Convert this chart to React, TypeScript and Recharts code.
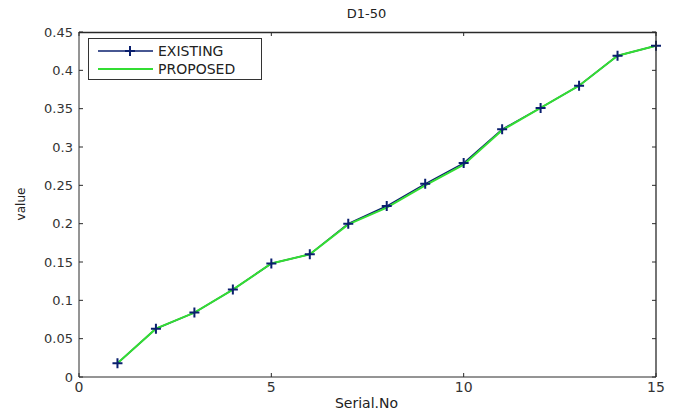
import React from 'react';
import { LineChart, Line, XAxis, YAxis, Legend } from 'recharts';

const serialNo = [1, 2, 3, 4, 5, 6, 7, 8, 9, 10, 11, 12, 13, 14, 15];
const existing = [0.018, 0.063, 0.084, 0.114, 0.148, 0.160, 0.200, 0.223, 0.252, 0.279, 0.323, 0.351, 0.380, 0.419, 0.432];
const proposed = [0.018, 0.063, 0.084, 0.114, 0.148, 0.160, 0.199, 0.221, 0.250, 0.277, 0.322, 0.351, 0.380, 0.419, 0.432];
const xTicks = [0, 5, 10, 15];
const yTicks = [0, 0.05, 0.1, 0.15, 0.2, 0.25, 0.3, 0.35, 0.4, 0.45];
const xDomain = [0, 15];
const yDomain = [0, 0.45];
const seriesNames = ['EXISTING', 'PROPOSED'];
const chartTitle = 'D1-50';
const xLabel = 'Serial.No';
const yLabel = 'value';

const data = serialNo.map((x, i) => ({ x, existing: existing[i], proposed: proposed[i] }));

const W = 675;
const H = 412;
const M = { top: 32, right: 19, left: 0, bottom: 0 };
const Y_AXIS_W = 79;
const X_AXIS_H = 35;
const PL = M.left + Y_AXIS_W;
const PR = W - M.right;
const PT = M.top;
const PB = H - M.bottom - X_AXIS_H;

const NAVY = '#0a1f6e';
const GREEN = '#33dd33';
const AXIS = '#2a2a2a';
const FONT = 'DejaVu Sans, Arial, sans-serif';

const PlusDot = (props: any) => {
  const { cx, cy, index } = props;
  if (cx == null || cy == null) return null;
  return (
    <path
      key={`p${index}`}
      d={`M${cx - 5},${cy}H${cx + 5}M${cx},${cy - 5}V${cy + 5}`}
      stroke={NAVY}
      strokeWidth={2}
      fill="none"
    />
  );
};

const renderLegend = () => (
  <div
    style={{
      border: '1px solid #333',
      background: '#fff',
      width: 174,
      height: 42,
      boxSizing: 'border-box',
      fontFamily: FONT,
      fontSize: 14,
      color: '#222',
      position: 'relative',
    }}
  >
    {seriesNames.map((name, i) => (
      <div key={name} style={{ position: 'absolute', left: 9, top: 3 + i * 18, height: 18, display: 'flex', alignItems: 'center' }}>
        <svg width={56} height={18} style={{ display: 'block' }}>
          <line x1={0} y1={9} x2={55} y2={9} stroke={i === 0 ? NAVY : GREEN} strokeWidth={i === 0 ? 1.5 : 2} />
          {i === 0 && <path d="M27,9H37M32,4V14" stroke={NAVY} strokeWidth={2} />}
        </svg>
        <span style={{ marginLeft: 4, lineHeight: '18px' }}>{name}</span>
      </div>
    ))}
  </div>
);

// box frame with inner ticks on the top and right edges (matlab style)
const Frame = () => {
  const sx = (v: number) => PL + ((v - xDomain[0]) / (xDomain[1] - xDomain[0])) * (PR - PL);
  const sy = (v: number) => PB - ((v - yDomain[0]) / (yDomain[1] - yDomain[0])) * (PB - PT);
  return (
    <svg width={W} height={H} style={{ position: 'absolute', left: 0, top: 0, pointerEvents: 'none' }}>
      <line x1={PL} x2={PR + 0.5} y1={PT + 0.5} y2={PT + 0.5} stroke={AXIS} strokeWidth={1.3} />
      <line x1={PR} x2={PR} y1={PT} y2={PB} stroke={AXIS} strokeWidth={1.3} />
      {xTicks.map((t) => (
        <line key={`tx${t}`} x1={sx(t)} x2={sx(t)} y1={PT} y2={PT + 4} stroke={AXIS} />
      ))}
      {yTicks.map((t) => (
        <line key={`ty${t}`} x1={PR} x2={PR - 4} y1={sy(t)} y2={sy(t)} stroke={AXIS} />
      ))}
    </svg>
  );
};

export default function App() {
  return (
    <div style={{ position: 'absolute', left: 0, top: 0, width: W, height: H, background: '#fff' }}>
      <LineChart width={W} height={H} data={data} margin={M}>
        <XAxis
          dataKey="x"
          type="number"
          domain={xDomain}
          ticks={xTicks}
          height={X_AXIS_H}
          tickSize={-4}
          tickMargin={9}
          axisLine={{ stroke: AXIS }}
          tickLine={{ stroke: AXIS }}
          tick={{ fontSize: 14, fill: '#333', fontFamily: FONT }}
        />
        <YAxis
          type="number"
          domain={yDomain}
          ticks={yTicks}
          width={Y_AXIS_W}
          tickSize={-4}
          tickMargin={10}
          axisLine={{ stroke: AXIS }}
          tickLine={{ stroke: AXIS }}
          tick={{ fontSize: 13, fill: '#333', fontFamily: FONT }}
        />
        <Legend
          layout="vertical"
          align="center"
          verticalAlign="middle"
          content={renderLegend}
          wrapperStyle={{ left: 88, top: 38, width: 174, height: 42 }}
        />
        <Line
          dataKey="existing"
          name={seriesNames[0]}
          stroke={NAVY}
          strokeWidth={1.5}
          dot={PlusDot}
          activeDot={false}
          isAnimationActive={false}
        />
        <Line
          dataKey="proposed"
          name={seriesNames[1]}
          stroke={GREEN}
          strokeWidth={2}
          dot={false}
          activeDot={false}
          isAnimationActive={false}
        />
      </LineChart>
      <Frame />
      <div style={{ position: 'absolute', left: 0, width: W, top: 6, textAlign: 'center', paddingLeft: 58, boxSizing: 'border-box', fontFamily: FONT, fontSize: 13, color: '#222' }}>
        {chartTitle}
      </div>
      <div style={{ position: 'absolute', left: 0, width: W, top: 395, textAlign: 'center', paddingLeft: 58, boxSizing: 'border-box', fontFamily: FONT, fontSize: 14, color: '#222' }}>
        {xLabel}
      </div>
      <div style={{ position: 'absolute', left: 21, top: 204, transform: 'translate(-50%, -50%) rotate(-90deg)', fontFamily: FONT, fontSize: 12, color: '#222', whiteSpace: 'nowrap' }}>
        {yLabel}
      </div>
    </div>
  );
}
